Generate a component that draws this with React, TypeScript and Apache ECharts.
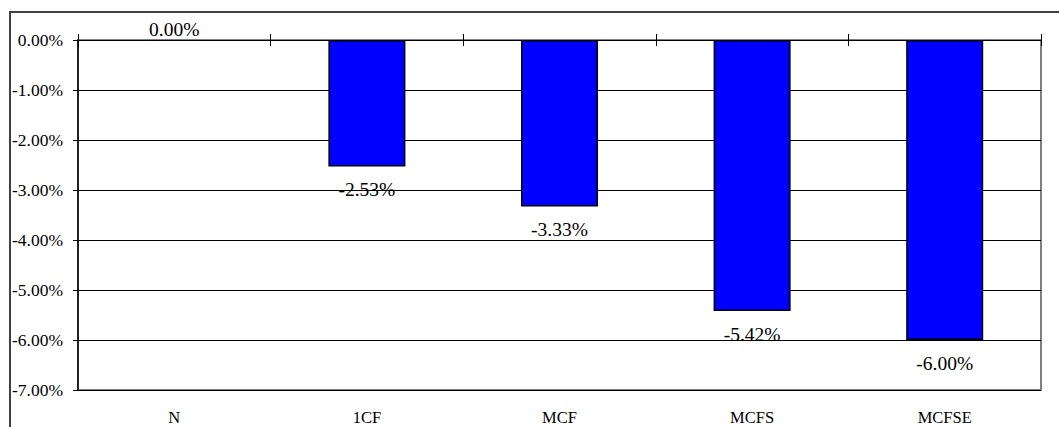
import React, { useEffect, useRef } from "react";
import * as echarts from "echarts";

const categories = ["N", "1CF", "MCF", "MCFS", "MCFSE"];
const values = [0, -2.53, -3.33, -5.42, -6.0];
const yMin = -7;
const yMax = 0;
const yStep = 1;

const FONT = "Liberation Serif";

export default function App() {
  const ref = useRef<HTMLDivElement>(null);
  useEffect(() => {
    if (!ref.current) return;
    const chart = echarts.init(ref.current, undefined, { renderer: "svg" });
    const fmt = (v: number) => v.toFixed(2) + "%";
    chart.setOption({
      animation: false,
      backgroundColor: "#ffffff",
      textStyle: { fontFamily: FONT },
      grid: {
        left: 78,
        top: 40,
        right: 18,
        bottom: 37,
        show: true,
        borderColor: "#808080",
        borderWidth: 2,
        backgroundColor: "transparent",
      },
      graphic: [
        {
          type: "rect",
          shape: { x: 10, y: 12, width: 2000, height: 2000 },
          style: { fill: "none", stroke: "#404040", lineWidth: 2 },
          silent: true,
        },
      ],
      xAxis: [
        {
          type: "category",
          data: categories,
          position: "bottom",
          axisLine: { show: false, onZero: false },
          axisTick: { show: false },
          axisLabel: {
            color: "#000",
            fontFamily: FONT,
            fontSize: 16.5,
            margin: 19,
          },
          splitLine: { show: false },
        },
        {
          type: "category",
          data: categories,
          position: "top",
          axisLine: { show: true, onZero: false, lineStyle: { color: "#000", width: 1 } },
          axisTick: { show: true, inside: false, length: 6, lineStyle: { color: "#000" } },
          axisLabel: { show: false },
          splitLine: { show: false },
        },
        {
          type: "category",
          data: categories,
          position: "top",
          axisLine: { show: false, onZero: false },
          axisTick: { show: true, inside: true, length: 6, lineStyle: { color: "#000" } },
          axisLabel: { show: false },
          splitLine: { show: false },
        },
      ],
      yAxis: {
        type: "value",
        min: yMin,
        max: yMax,
        interval: yStep,
        axisLine: { show: true, lineStyle: { color: "#000", width: 1.5 } },
        axisTick: { show: true, length: 5, lineStyle: { color: "#000" } },
        axisLabel: {
          color: "#000",
          fontFamily: FONT,
          fontSize: 17.5,
          margin: 15,
          formatter: (v: number) => fmt(v),
        },
        splitLine: { show: true, lineStyle: { color: "#000", width: 1 } },
      },
      series: [
        {
          type: "bar",
          xAxisIndex: 0,
          barWidth: "40%",
          data: values.map((v) => ({
            value: v,
            itemStyle: v === 0 ? { borderWidth: 0 } : undefined,
            label: {
              show: true,
              position: v >= 0 ? "top" : "bottom",
              distance: v >= 0 ? 1 : 13,
            },
          })),
          itemStyle: { color: "#0000FF", borderColor: "#000", borderWidth: 1.5 },
          label: {
            show: true,
            color: "#000",
            fontFamily: FONT,
            fontSize: 19.5,
            formatter: (p: any) => fmt(p.value),
          },
        },
      ],
    });
    return () => chart.dispose();
  }, []);
  return (
    <div
      ref={ref}
      style={{ position: "fixed", left: 0, top: 0, width: 1059, height: 427, background: "#fff" }}
    />
  );
}
